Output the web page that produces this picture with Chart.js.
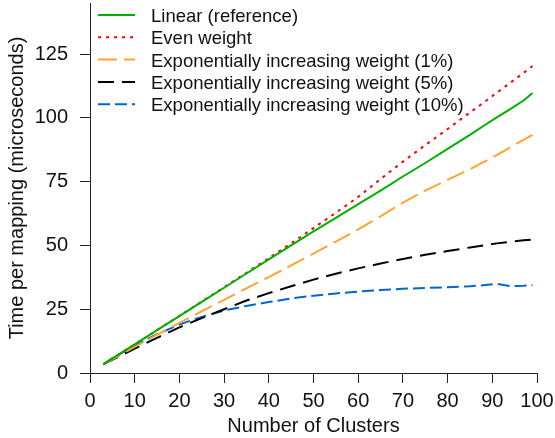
<!DOCTYPE html>
<html>
<head>
<meta charset="utf-8">
<title>Time per mapping</title>
<script src="https://cdn.jsdelivr.net/npm/chart.js@4.4.1/dist/chart.umd.min.js"></script>
<style>
  body { margin: 0; background: #fff; }
  #evo { display: block; }
</style>
</head>
<body>
<canvas id="evo" width="555" height="438"></canvas>
<script>
// number of clusters (x) and time per mapping in microseconds (y)
var clusters = [3, 6, 10, 15, 20, 25, 30, 35, 40, 45, 50, 55, 60, 65, 70, 75, 80, 85, 88, 91, 94, 97, 99];
var linear   = [3.5, 6.8, 11.2, 16.8, 22.3, 27.9, 33.4, 39, 44.5, 50, 55.5, 60.8, 66.2, 71.5, 77, 82.3, 87.8, 93.3, 96.8, 100.2, 103.4, 106.8, 109.7];
var even     = [3.5, 6.8, 11.2, 16.8, 22.4, 28, 33.6, 39.3, 45, 50.8, 56.8, 62.8, 69, 76, 82.8, 89.3, 95.6, 102.1, 105.9, 109.8, 113.7, 117.6, 120.3];
var exp1     = [3.5, 6.3, 10.2, 15, 19.6, 24.2, 28.7, 33.2, 37.6, 42.2, 46.8, 51.5, 56.3, 61.4, 66.8, 71.5, 75.7, 79.9, 82.6, 85.4, 88.4, 91.4, 93.3];
var exp5     = [3.5, 6, 9.6, 13.8, 17.9, 21.5, 25, 28.4, 31.3, 34, 36.6, 38.9, 41, 42.9, 44.7, 46.3, 47.8, 49.2, 50, 50.8, 51.4, 52, 52.3];
var exp10    = [3.5, 6.8, 10.8, 15.2, 19, 22, 24.5, 26.3, 27.8, 29.2, 30.3, 31.2, 31.9, 32.5, 33, 33.3, 33.6, 34, 34.4, 34.9, 34.1, 34.2, 34.4];

var xTicks = [0, 10, 20, 30, 40, 50, 60, 70, 80, 90, 100];
var yTicks = [0, 25, 50, 75, 100, 125];

var seriesNames = [
    "Linear (reference)",
    "Even weight",
    "Exponentially increasing weight (1%)",
    "Exponentially increasing weight (5%)",
    "Exponentially increasing weight (10%)"
];

var fontFamily = "'Liberation Sans', Arial, Helvetica, sans-serif";

function points(values){
    var out = [];
    for (var i = 0; i < clusters.length; i++) {
        out.push({x: clusters[i], y: values[i]});
    }
    return out;
}

function makeSet(label, values, color, dash){
    return {
        "label": label,
        "data": points(values),
        "fill": false,
        "borderColor": color,
        "backgroundColor": color,
        "borderWidth": 2,
        "borderDash": dash,
        "borderCapStyle": "butt",
        "borderJoinStyle": "round",
        "pointRadius": 0,
        "tension": 0
    };
}

var data = {
    "datasets": [
        makeSet(seriesNames[0], linear, "#00b000", []),
        makeSet(seriesNames[1], even, "#ff0000", [3, 5]),
        makeSet(seriesNames[2], exp1, "#ffa335", [19, 7]),
        makeSet(seriesNames[3], exp5, "#000000", [16, 8]),
        makeSet(seriesNames[4], exp10, "#0066d0", [12, 5])
    ]
};

// legend drawn inside the plot, top left, like the original
var insideLegend = {
    id: "insideLegend",
    afterDraw: function(chart){
        var ctx = chart.ctx;
        var sets = chart.data.datasets;
        ctx.save();
        for (var i = 0; i < sets.length; i++) {
            var y = 15 + i * 22.3;
            ctx.beginPath();
            ctx.strokeStyle = sets[i].borderColor;
            ctx.lineWidth = 2;
            ctx.setLineDash(sets[i].borderDash);
            ctx.moveTo(98, y);
            ctx.lineTo(135, y);
            ctx.stroke();
            ctx.setLineDash([]);
            ctx.fillStyle = "#111";
            ctx.font = "18.5px " + fontFamily;
            ctx.textBaseline = "middle";
            ctx.textAlign = "left";
            ctx.fillText(sets[i].label, 151, y + 2);
        }
        ctx.restore();
    }
};

var zone = document.getElementById("evo");
var mychart = new Chart(zone, {
    type: "line",
    data: data,
    plugins: [insideLegend],
    options: {
        responsive: false,
        animation: false,
        devicePixelRatio: 1,
        layout: { padding: { top: 3, right: 18, bottom: 0, left: 0 } },
        plugins: {
            legend: { display: false },
            tooltip: { enabled: false }
        },
        scales: {
            x: {
                type: "linear",
                min: 0,
                max: 100,
                afterBuildTicks: function(scale){
                    scale.ticks = xTicks.map(function(v){ return {value: v}; });
                },
                afterFit: function(scale){
                    scale.height = 65;
                    scale.paddingLeft = 0;
                    scale.paddingRight = 0;
                },
                grid: { drawOnChartArea: false, drawTicks: true, tickLength: 10, color: "#222" },
                border: { display: true, color: "#222", width: 1 },
                ticks: { color: "#111", padding: 6, maxRotation: 0, autoSkip: false, font: { family: fontFamily, size: 20 } },
                title: { display: true, text: "Number of Clusters", color: "#111", padding: { top: 0, bottom: 0 }, font: { family: fontFamily, size: 20 } }
            },
            y: {
                type: "linear",
                min: 0,
                max: 145,
                afterBuildTicks: function(scale){
                    scale.ticks = yTicks.map(function(v){ return {value: v}; });
                },
                afterFit: function(scale){
                    scale.width = 90;
                    scale.paddingTop = 0;
                    scale.paddingBottom = 0;
                },
                grid: { drawOnChartArea: false, drawTicks: true, tickLength: 10, color: "#222" },
                border: { display: true, color: "#222", width: 1 },
                ticks: { color: "#111", padding: 12, autoSkip: false, font: { family: fontFamily, size: 20 } },
                title: { display: true, text: "Time per mapping (microseconds)", color: "#111", padding: { top: 5, bottom: 0 }, font: { family: fontFamily, size: 20 } }
            }
        }
    }
});
</script>
</body>
</html>
